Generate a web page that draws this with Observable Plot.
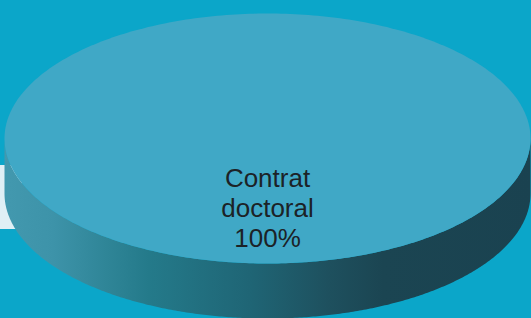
<!DOCTYPE html>
<html>
<head>
<meta charset="utf-8">
<script src="https://cdn.jsdelivr.net/npm/d3@7"></script>
<script src="https://cdn.jsdelivr.net/npm/@observablehq/plot@0.6"></script>
<style>
  html, body { margin: 0; padding: 0; background: #0ba6c9; overflow: hidden; }
  #wrap { position: relative; width: 531px; height: 318px; }
  #band { position: absolute; left: 0; top: 165px; width: 22px; height: 64px; background: #dfeff5; }
  #chart { position: absolute; left: 0; top: 0; }
  svg { background: transparent !important; }
</style>
</head>
<body>
<div id="wrap"><div id="band"></div><div id="chart"></div></div>
<script>
// Data
const categories = ["Contrat doctoral"];
const shares = [100];
const labels = ["Contrat\ndoctoral\n100%"];
const sliceColors = ["#40a8c6"];

// Pie geometry (unit ellipse; depth of the 3D wall in y units)
const depth = 0.44;
const pie = d3.pie().sort(null).startAngle(0).endAngle(2 * Math.PI)(shares);
const slices = pie.map((p, i) => ({...p, name: categories[i], label: labels[i], color: sliceColors[i]}));

const N = 360;
const topPts = [];
const wallPts = [];
for (const s of slices) {
  const full = s.endAngle - s.startAngle >= 2 * Math.PI - 1e-9;
  if (!full) topPts.push({name: s.name, x: 0, y: 0});
  for (let k = 0; k <= N; k++) {
    const t = s.startAngle + (s.endAngle - s.startAngle) * k / N;
    topPts.push({name: s.name, x: Math.cos(t), y: Math.sin(t)});
  }
  // front wall: angles in (0, PI)
  const a0 = Math.max(s.startAngle, 0), a1 = Math.min(s.endAngle, Math.PI);
  if (a1 > a0) {
    const arc = [];
    for (let k = 0; k <= N; k++) {
      const t = a0 + (a1 - a0) * k / N;
      arc.push([Math.cos(t), Math.sin(t)]);
    }
    for (const [x, y] of arc) wallPts.push({name: s.name, x, y});
    for (const [x, y] of arc.slice().reverse()) wallPts.push({name: s.name, x, y: y + depth});
  }
}
const labelPts = slices.map(s => ({name: s.name, label: s.label, x: 0, y: 0}));

const plot = Plot.plot({
  width: 531,
  height: 318,
  margin: 0,
  x: {domain: [-1, 1], range: [4, 530], axis: null},
  y: {domain: [-1, 1], range: [13, 263], axis: null},
  style: {background: "transparent"},
  marks: [
    Plot.line(wallPts, {x: "x", y: "y", z: "name", fill: "url(#wallGrad)", stroke: "none", curve: "linear"}),
    Plot.line(topPts, {x: "x", y: "y", z: "name", fill: (d) => sliceColors[categories.indexOf(d.name)], stroke: "none", curve: "linear"}),
    Plot.text(labelPts, {x: "x", y: "y", text: "label", dy: 69, fontSize: 26, lineHeight: 1.15, fill: "#1c2226", fontFamily: "Liberation Sans, Arial, sans-serif"})
  ]
});

const svg = d3.select(plot);
const defs = svg.insert("defs", ":first-child");
const g = defs.append("linearGradient").attr("id", "wallGrad")
  .attr("gradientUnits", "userSpaceOnUse").attr("x1", 0).attr("x2", 531).attr("y1", 0).attr("y2", 0);
[[0, "#4399af"], [0.1, "#3d93a9"], [0.2, "#2f8597"], [0.28, "#247a8a"], [0.47, "#1f6575"], [0.62, "#1e505e"], [0.72, "#1b4552"], [1, "#1a4250"]]
  .forEach(([o, c]) => g.append("stop").attr("offset", o).attr("stop-color", c));

document.getElementById("chart").appendChild(plot);
</script>
</body>
</html>
